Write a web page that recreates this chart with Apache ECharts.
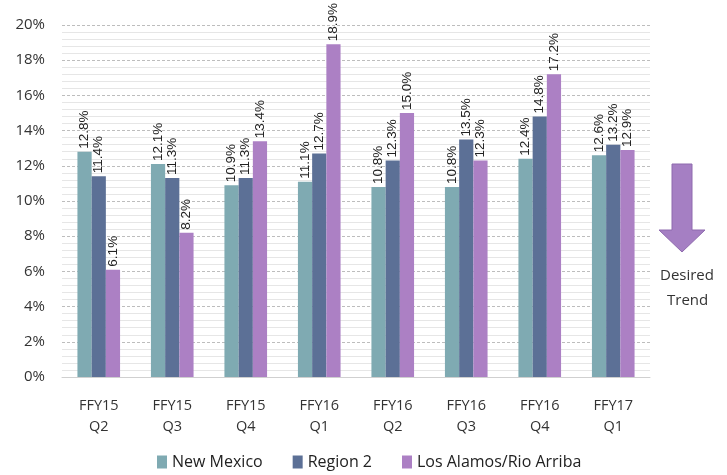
<!DOCTYPE html>
<html><head><meta charset="utf-8">
<script src="https://cdn.jsdelivr.net/npm/echarts@6/dist/echarts.min.js"></script>
<style>html,body{margin:0;padding:0;background:#fff}#c{width:727px;height:475px}</style>
</head><body><div id="c"></div>
<script>
const categories = ["FFY15\nQ2","FFY15\nQ3","FFY15\nQ4","FFY16\nQ1","FFY16\nQ2","FFY16\nQ3","FFY16\nQ4","FFY17\nQ1"];
const newMexico = [12.8, 12.1, 10.9, 11.1, 10.8, 10.8, 12.4, 12.6];
const region2 = [11.4, 11.3, 11.3, 12.7, 12.3, 13.5, 14.8, 13.2];
const losAlamos = [6.1, 8.2, 13.4, 18.9, 15.0, 12.3, 17.2, 12.9];
const seriesNames = ["New Mexico", "Region 2", "Los Alamos/Rio Arriba"];
const colors = ["#7FAAB2", "#5C7096", "#AC80C4"];
const font = "'Open Sans', 'Noto Sans', sans-serif";

const chart = echarts.init(document.getElementById('c'));
const label = {
  show: true, position: 'top', rotate: 90, align: 'left', verticalAlign: 'middle',
  distance: 3, fontSize: 13.5, color: '#222', fontFamily: "'Liberation Sans', sans-serif",
  formatter: p => p.value.toFixed(1) + '%'
};
chart.setOption({
  animation: false,
  color: colors,
  grid: { left: 62, right: 77, top: 25, bottom: 98 },
  legend: {
    bottom: 0, left: 152, itemWidth: 10, itemHeight: 13, itemGap: 30,
    icon: 'rect',
    textStyle: { fontSize: 16, color: '#222', fontFamily: font }
  },
  xAxis: {
    type: 'category', data: categories,
    axisLine: { lineStyle: { color: '#d0d0d0' } },
    axisTick: { show: false },
    axisLabel: { fontSize: 14.5, color: '#333', fontFamily: font, lineHeight: 21, margin: 18 }
  },
  yAxis: {
    type: 'value', min: 0, max: 20, interval: 2,
    axisLabel: { formatter: v => v + '%', fontSize: 15, color: '#333', fontFamily: font, margin: 17 },
    splitLine: { lineStyle: { color: '#bdbdbd', type: [3, 2] } },
    minorTick: { show: false, splitNumber: 5 },
    minorSplitLine: { show: true, lineStyle: { color: '#e6e6e6' } },
    axisLine: { show: false }, axisTick: { show: false }
  },
  series: [
    { name: seriesNames[0], type: 'bar', data: newMexico, barGap: '0%', barCategoryGap: '42%', label },
    { name: seriesNames[1], type: 'bar', data: region2, label },
    { name: seriesNames[2], type: 'bar', data: losAlamos, label }
  ],
  graphic: [
    { type: 'polygon', shape: { points: [[672,164],[692,164],[692,230],[705,230],[682,252],[659,230],[672,230]] },
      style: { fill: '#A57FC3', stroke: '#8E6AAE', lineWidth: 1 } },
    { type: 'text', left: 660, top: 268, style: { text: 'Desired', fill: '#333', font: "15px 'Open Sans', sans-serif" } },
    { type: 'text', left: 667, top: 293, style: { text: 'Trend', fill: '#333', font: "15px 'Open Sans', sans-serif" } }
  ]
});
</script></body></html>
